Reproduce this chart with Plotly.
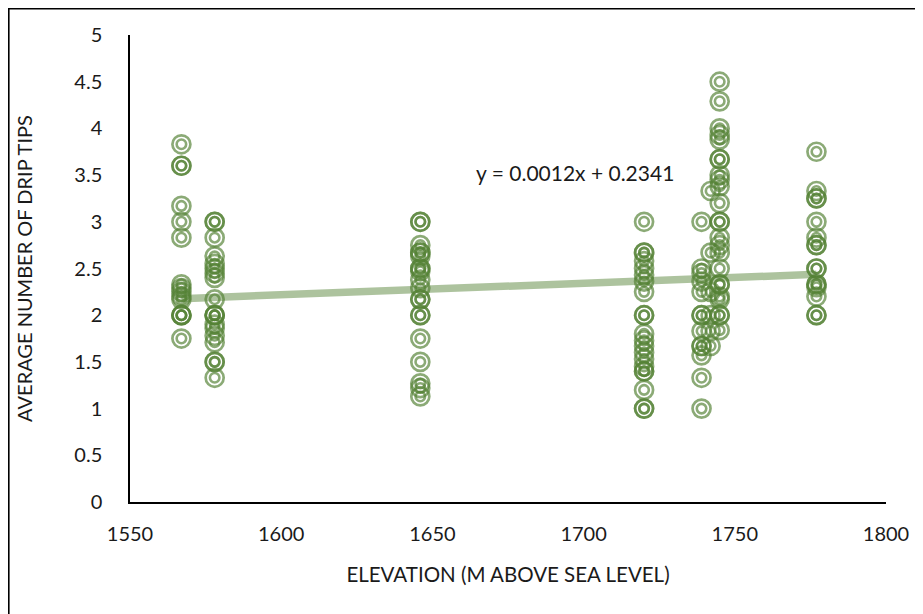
import numpy as np
import plotly.graph_objects as go

# ---- data ----
elevations = [1567, 1578, 1646, 1720, 1739, 1742, 1745, 1777]
drip_1567 = [3.83, 3.6, 3.6, 3.17, 3.0, 2.83, 2.33, 2.29, 2.25, 2.2, 2.17, 2.0, 2.0, 2.0, 1.75]
drip_1578 = [3.0, 3.0, 2.83, 2.63, 2.55, 2.5, 2.45, 2.4, 2.17, 2.0, 2.0, 2.0, 1.9, 1.86, 1.78, 1.71, 1.5, 1.5, 1.33]
drip_1646 = [3.0, 3.0, 2.75, 2.67, 2.67, 2.63, 2.5, 2.5, 2.47, 2.38, 2.29, 2.17, 2.17, 2.0, 2.0, 1.75, 1.5, 1.27, 1.22, 1.13]
drip_1720 = [3.0, 2.67, 2.67, 2.58, 2.5, 2.43, 2.36, 2.25, 2.0, 2.0, 1.8, 1.73, 1.67, 1.6, 1.53, 1.45, 1.4, 1.4, 1.2, 1.0, 1.0]
drip_1739 = [3.0, 2.5, 2.45, 2.36, 2.25, 2.0, 2.0, 1.83, 1.67, 1.67, 1.57, 1.33, 1.0]
drip_1742 = [3.33, 2.67, 2.25, 2.0, 1.83, 1.67]
drip_1745 = [4.5, 4.29, 4.0, 3.93, 3.88, 3.67, 3.67, 3.5, 3.45, 3.38, 3.2, 3.0, 3.0, 2.83,
             2.75, 2.67, 2.5, 2.33, 2.33, 2.2, 2.17, 2.0, 2.0, 1.84]
drip_1777 = [3.75, 3.33, 3.25, 3.25, 3.0, 2.83, 2.75, 2.75, 2.5, 2.5, 2.33, 2.33, 2.3, 2.2, 2.0, 2.0]
drip_groups = [drip_1567, drip_1578, drip_1646, drip_1720, drip_1739, drip_1742, drip_1745, drip_1777]

trend_slope = 0.00124
trend_intercept = 0.2341
trend_label = "y = 0.0012x + 0.2341"

x_ticks = [1550, 1600, 1650, 1700, 1750, 1800]
y_ticks = [0, 0.5, 1, 1.5, 2, 2.5, 3, 3.5, 4, 4.5, 5]

# ---- build ----
xs, ys = [], []
for e, g in zip(elevations, drip_groups):
    xs += [e] * len(g)
    ys += g

green = "rgba(84,130,53,0.68)"
font_family = "Lato, 'Open Sans', sans-serif"
txt = "#1a1a1a"

W, H = 923, 614
ML, MR, MT, MB = 122, 45, 27, 120
pw, ph = W - ML - MR, H - MT - MB

fig = go.Figure()
tx = np.array([min(xs), max(xs)])
fig.add_trace(go.Scatter(x=tx, y=trend_slope * tx + trend_intercept, mode="lines",
                         line=dict(color="rgba(84,130,53,0.48)", width=7.5),
                         hoverinfo="skip", showlegend=False))
fig.add_trace(go.Scatter(x=xs, y=ys, mode="markers", showlegend=False,
                         marker=dict(symbol="circle-open", size=18,
                                     line=dict(color=green, width=2.7), color=green)))
fig.add_trace(go.Scatter(x=xs, y=ys, mode="markers", showlegend=False, hoverinfo="skip",
                         marker=dict(symbol="circle-open", size=9.5,
                                     line=dict(color=green, width=2.6), color=green)))

fig.add_annotation(x=1697, y=3.53, text=trend_label, showarrow=False,
                   font=dict(family=font_family, size=21, color=txt))

# outer chart border
fig.add_shape(type="rect", xref="paper", yref="paper",
              x0=(0.8 - ML) / pw, x1=(909 - ML) / pw,
              y0=(H - MB - 612) / ph, y1=(H - MB - 0.8) / ph,
              line=dict(color="black", width=1.6))

fig.update_layout(
    width=W, height=H,
    margin=dict(l=ML, r=MR, t=MT, b=MB),
    paper_bgcolor="white", plot_bgcolor="white",
    font=dict(family=font_family, size=20, color=txt),
    xaxis=dict(range=[1550, 1800], tickvals=x_ticks, showgrid=False, zeroline=False,
               showline=True, linecolor="black", linewidth=2, ticks="",
               ticklabelstandoff=13, tickfont=dict(size=20),
               title=dict(text="ELEVATION (M ABOVE SEA LEVEL)", standoff=24,
                          font=dict(size=20.5, color=txt))),
    yaxis=dict(range=[0, 5], tickvals=y_ticks, showgrid=False, zeroline=False,
               showline=True, linecolor="black", linewidth=1.5, ticks="",
               ticklabelstandoff=22, tickfont=dict(size=20),
               title=dict(text="AVERAGE NUMBER OF DRIP TIPS", standoff=36,
                          font=dict(size=20, color=txt))),
)
fig.write_html("out.html")
